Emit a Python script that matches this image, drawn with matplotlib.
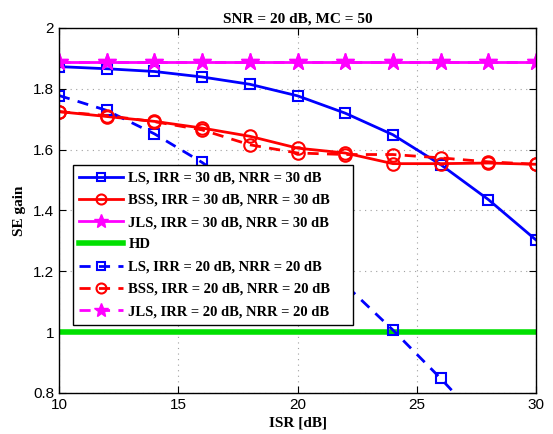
import matplotlib
matplotlib.use("Agg")
import matplotlib.pyplot as plt
import numpy as np

isr = [10, 12, 14, 16, 18, 20, 22, 24, 26, 28, 30]
ls_30 = [1.873, 1.866, 1.857, 1.839, 1.815, 1.777, 1.720, 1.649, 1.551, 1.436, 1.303]
bss_30 = [1.725, 1.709, 1.693, 1.671, 1.644, 1.605, 1.589, 1.554, 1.554, 1.556, 1.552]
jls_30 = [1.888] * 11
hd = [1.0] * 11
ls_20 = [1.778, 1.729, 1.652, 1.558, 1.445, 1.310, 1.156, 1.007, 0.848, 0.68, 0.52]
bss_20 = [1.725, 1.712, 1.692, 1.665, 1.616, 1.589, 1.584, 1.584, 1.573, 1.560, 1.552]
jls_20 = [1.888] * 11

labels = ["LS, IRR = 30 dB, NRR = 30 dB", "BSS, IRR = 30 dB, NRR = 30 dB",
          "JLS, IRR = 30 dB, NRR = 30 dB", "HD",
          "LS, IRR = 20 dB, NRR = 20 dB", "BSS, IRR = 20 dB, NRR = 20 dB",
          "JLS, IRR = 20 dB, NRR = 20 dB"]

serif = ["Liberation Serif", "DejaVu Serif"]
sans = ["Liberation Sans", "DejaVu Sans"]

fig = plt.figure(figsize=(5.53, 4.34), dpi=100)
ax = fig.add_axes([0.1067, 0.0945, 0.8626, 0.841])

lw = 2
h1, = ax.plot(isr, ls_30, '-', color='blue', lw=lw, marker='s', ms=7, mfc='none', mew=1.5, label=labels[0])
h2, = ax.plot(isr, bss_30, '-', color='red', lw=lw, marker='o', ms=9, mfc='none', mew=1.5, label=labels[1])
h4, = ax.plot(isr, hd, '-', color='#00e000', lw=4, label=labels[3])
h5, = ax.plot(isr, ls_20, '--', color='blue', lw=lw, marker='s', ms=7, mfc='none', mew=1.5, dashes=(4, 3), label=labels[4])
h6, = ax.plot(isr, bss_20, '--', color='red', lw=lw, marker='o', ms=9, mfc='none', mew=1.5, dashes=(4, 3), label=labels[5])
h7, = ax.plot(isr, jls_20, '--', color='magenta', lw=lw, marker='*', ms=13, dashes=(4, 3), label=labels[6])
h3, = ax.plot(isr, jls_30, '-', color='magenta', lw=lw, marker='*', ms=13, label=labels[2])

ax.set_xlim(10, 30)
ax.set_ylim(0.8, 2.0)
ax.set_xticks([10, 15, 20, 25, 30])
ax.set_yticks([0.8, 1.0, 1.2, 1.4, 1.6, 1.8, 2.0])
ax.set_yticklabels(["0.8", "1", "1.2", "1.4", "1.6", "1.8", "2"])
ax.grid(True, linestyle=(0, (1, 4)), color='#a0a0a0', lw=0.8)
ax.tick_params(direction='in', top=True, right=True, labelsize=11, length=5)
for t in ax.get_xticklabels() + ax.get_yticklabels():
    t.set_family(sans)
for s in ax.spines.values():
    s.set_linewidth(1.0)

ax.set_xlabel("ISR [dB]", family=serif, fontweight='bold', fontsize=11, labelpad=3)
ax.set_ylabel("SE gain", family=serif, fontweight='bold', fontsize=11, labelpad=5)
ax.set_title("SNR = 20 dB, MC = 50", family=serif, fontweight='bold', fontsize=11, pad=4)

leg = ax.legend(handles=[h1, h2, h3, h4, h5, h6, h7], loc='upper left',
                bbox_to_anchor=(0.029, 0.0, 0.587, 0.625), mode='expand', borderaxespad=0,
                prop={'family': serif, 'weight': 'bold', 'size': 10.5},
                fancybox=False, edgecolor='black', framealpha=1,
                handlelength=3.0, labelspacing=0.62, handletextpad=0.35,
                borderpad=0.45, markerscale=0.8)
leg.get_frame().set_linewidth(1.0)

fig.savefig("out.png", dpi=100)
